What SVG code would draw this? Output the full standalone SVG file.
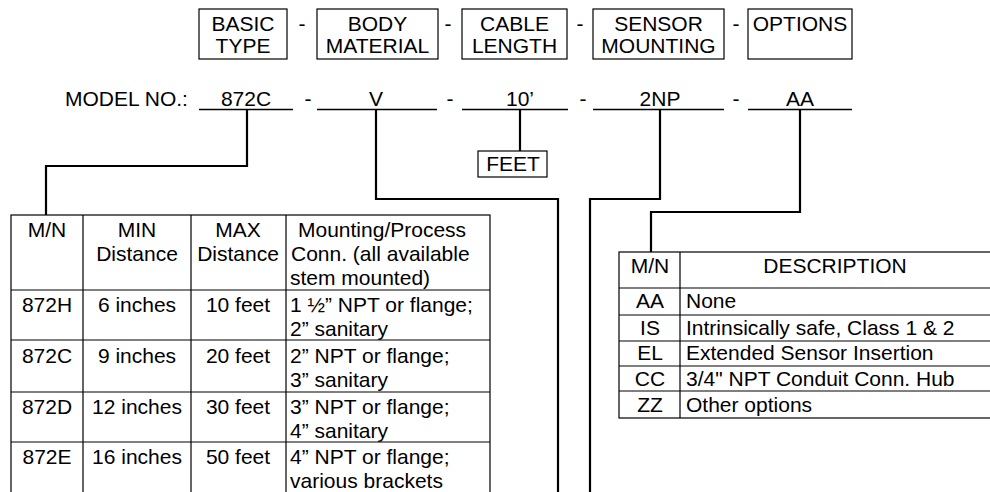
<svg xmlns="http://www.w3.org/2000/svg" width="990" height="492" viewBox="0 0 990 492">
<style>
text{font-family:"Liberation Sans",Arial,sans-serif;font-size:21px;fill:#000}
.c{text-anchor:middle}
.box{fill:none;stroke:#000;stroke-width:1.2}
.tl{fill:none;stroke:#000;stroke-width:1.2}
.ul{stroke:#000;stroke-width:1.4}
.con{fill:none;stroke:#000;stroke-width:2.2}
</style>
<rect width="990" height="492" fill="#fff"/>
<g id="hdr-basic"><rect class="box" x="199" y="9" width="88" height="50"/><text class="c" x="243" y="31">BASIC</text><text class="c" x="243" y="53">TYPE</text></g>
<text class="c" x="302" y="31">-</text>
<g id="hdr-body"><rect class="box" x="317" y="9" width="121" height="50"/><text class="c" x="377.5" y="31">BODY</text><text class="c" x="377.5" y="53">MATERIAL</text></g>
<text class="c" x="448" y="31">-</text>
<g id="hdr-cable"><rect class="box" x="462" y="9" width="105" height="50"/><text class="c" x="514.5" y="31">CABLE</text><text class="c" x="514.5" y="53">LENGTH</text></g>
<text class="c" x="580" y="31">-</text>
<g id="hdr-sensor"><rect class="box" x="593" y="9" width="131" height="50"/><text class="c" x="658.5" y="31">SENSOR</text><text class="c" x="658.5" y="53">MOUNTING</text></g>
<text class="c" x="736" y="31">-</text>
<g id="hdr-options"><rect class="box" x="748" y="9" width="104" height="50"/><text class="c" x="800" y="31">OPTIONS</text></g>

<g id="model">
<text x="65" y="106">MODEL NO.:</text>
<line class="ul" x1="199" y1="109.5" x2="293" y2="109.5"/><text class="c" x="246" y="106">872C</text>
<text class="c" x="308" y="106">-</text>
<line class="ul" x1="317" y1="109.5" x2="437" y2="109.5"/><text class="c" x="376" y="106">V</text>
<text class="c" x="450" y="106">-</text>
<line class="ul" x1="462" y1="109.5" x2="568" y2="109.5"/><text class="c" x="520" y="106">10’</text>
<text class="c" x="583" y="106">-</text>
<line class="ul" x1="593" y1="109.5" x2="724" y2="109.5"/><text class="c" x="660" y="106">2NP</text>
<text class="c" x="736" y="106">-</text>
<line class="ul" x1="748" y1="109.5" x2="852" y2="109.5"/><text class="c" x="800" y="106">AA</text>
</g>

<g id="feet"><rect class="box" x="478" y="151" width="69" height="26"/><text class="c" x="513" y="171">FEET</text></g>

<g id="connectors">
<path class="con" d="M247,110 V166 H46 V215"/>
<path class="con" d="M376,110 V199 H558 V495"/>
<path class="con" d="M520,110 V151"/>
<path class="con" d="M660,110 V199 H590 V495"/>
<path class="con" d="M800,110 V212 H651 V252"/>
</g>

<g id="type-table">
<rect class="tl" x="11" y="215" width="479" height="290"/>
<path class="tl" d="M11,290 H490 M11,340 H490 M11,392 H490 M11,442 H490 M83,215 V495 M191,215 V495 M286,215 V495"/>
<text class="c" x="47" y="237">M/N</text>
<text class="c" x="137" y="237">MIN</text><text class="c" x="137" y="261">Distance</text>
<text class="c" x="238" y="237">MAX</text><text class="c" x="238" y="261">Distance</text>
<text x="298" y="237">Mounting/Process</text><text x="291" y="261">Conn. (all available</text><text x="290" y="285">stem mounted)</text>
<text class="c" x="47" y="312">872H</text><text class="c" x="137" y="312">6 inches</text><text class="c" x="238" y="312">10 feet</text><text x="290" y="312">1 ½” NPT or flange;</text><text x="290" y="336">2” sanitary</text>
<text class="c" x="47" y="363">872C</text><text class="c" x="137" y="363">9 inches</text><text class="c" x="238" y="363">20 feet</text><text x="290" y="363">2” NPT or flange;</text><text x="290" y="387">3” sanitary</text>
<text class="c" x="47" y="414">872D</text><text class="c" x="137" y="414">12 inches</text><text class="c" x="238" y="414">30 feet</text><text x="290" y="414">3” NPT or flange;</text><text x="290" y="438">4” sanitary</text>
<text class="c" x="47" y="464">872E</text><text class="c" x="137" y="464">16 inches</text><text class="c" x="238" y="464">50 feet</text><text x="290" y="464">4” NPT or flange;</text><text x="290" y="488">various brackets</text>
</g>

<g id="options-table">
<rect class="tl" x="619" y="252" width="380" height="166"/>
<path class="tl" d="M619,288 H999 M619,315 H999 M619,341 H999 M619,366 H999 M619,391 H999 M680,252 V418"/>
<text class="c" x="650" y="273">M/N</text><text class="c" x="835" y="273">DESCRIPTION</text>
<text class="c" x="650" y="308">AA</text><text x="686" y="308">None</text>
<text class="c" x="650" y="335">IS</text><text x="686" y="335">Intrinsically safe, Class 1 &amp; 2</text>
<text class="c" x="650" y="360">EL</text><text x="686" y="360">Extended Sensor Insertion</text>
<text class="c" x="650" y="386">CC</text><text x="686" y="386">3/4" NPT Conduit Conn. Hub</text>
<text class="c" x="650" y="412">ZZ</text><text x="686" y="412">Other options</text>
</g>
</svg>
